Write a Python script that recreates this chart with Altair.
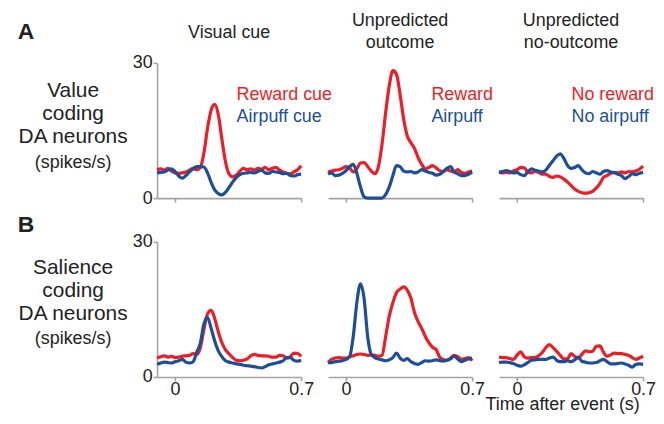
import altair as alt
import pandas as pd

# ---------------- data ----------------
TIME = [-0.10, -0.08, -0.06, -0.04, -0.02, 0.00, 0.02, 0.04, 0.06, 0.08,
        0.10, 0.12, 0.14, 0.16, 0.18, 0.20, 0.22, 0.24, 0.26, 0.28,
        0.30, 0.32, 0.34, 0.36, 0.38, 0.40, 0.42, 0.44, 0.46, 0.48,
        0.50, 0.52, 0.54, 0.56, 0.58, 0.60, 0.62, 0.64, 0.66, 0.68, 0.70]

# Row A: value coding DA neurons
A_CUE_RED = [6.3, 6.5, 6.2, 6.6, 6.0, 5.6, 5.5, 5.6, 5.8, 6.2,
             6.6, 6.3, 6.8, 10.0, 15.5, 19.5, 20.8, 18.5, 13.0, 8.0,
             5.3, 4.7, 5.1, 6.0, 6.6, 6.3, 6.5, 6.2, 6.6, 6.4,
             6.8, 6.3, 6.6, 6.8, 6.2, 5.8, 5.5, 5.4, 5.8, 6.3, 7.2]
A_CUE_BLUE = [5.6, 5.7, 5.8, 6.2, 6.5, 5.9, 4.9, 4.4, 5.0, 5.8,
              6.5, 7.0, 7.0, 6.9, 5.6, 3.5, 1.8, 1.0, 0.7, 1.3,
              2.4, 3.6, 4.6, 5.2, 5.5, 5.6, 5.7, 5.6, 5.9, 6.2,
              5.6, 5.5, 5.9, 5.8, 5.7, 5.4, 5.5, 5.0, 4.9, 5.2, 5.3]
A_OUT_RED = [5.8, 6.0, 6.2, 6.3, 6.6, 7.0, 6.7, 5.8, 6.5, 7.8,
             7.9, 7.0, 6.0, 5.4, 7.0, 12.0, 19.0, 25.0, 28.3, 27.5,
             23.0, 17.5, 13.8, 12.3, 11.0, 9.0, 7.5, 6.5, 6.8, 7.2,
             6.7, 6.1, 5.9, 6.3, 6.0, 5.8, 6.3, 5.7, 5.5, 5.8, 6.0]
A_OUT_BLUE = [5.3, 5.6, 5.0, 5.1, 5.5, 6.1, 7.0, 7.5, 5.5, 2.5,
              0.3, 0.0, 0.0, 0.0, 0.0, 0.0, 0.8, 2.5, 5.0, 7.2,
              7.0, 6.0, 5.8, 5.9, 5.6, 5.8, 6.3, 6.0, 5.7, 5.5,
              5.1, 5.3, 5.9, 6.6, 7.0, 5.8, 5.4, 5.0, 5.0, 5.3, 5.7]
A_NO_RED = [5.7, 5.6, 5.7, 5.6, 6.0, 6.3, 6.8, 6.7, 5.8, 5.6,
            5.9, 5.7, 5.3, 5.3, 4.8, 4.6, 4.9, 4.7, 4.2, 3.6,
            2.8, 2.0, 1.5, 1.2, 1.1, 1.2, 1.5, 2.2, 3.2, 4.6,
            5.0, 5.5, 5.7, 5.6, 5.8, 5.6, 5.9, 5.8, 6.0, 6.4, 7.1]
A_NO_BLUE = [5.7, 5.9, 6.1, 5.9, 5.6, 5.7, 5.2, 5.0, 5.8, 6.5,
             6.2, 6.0, 5.8, 6.2, 7.3, 8.3, 9.3, 9.8, 8.8, 7.3,
             6.6, 6.8, 7.2, 6.3, 5.6, 5.4, 5.9, 5.6, 5.3, 5.9,
             6.1, 5.8, 5.6, 5.3, 5.0, 4.3, 4.8, 5.4, 5.2, 5.5, 5.7]

# Row B: salience coding DA neurons
B_CUE_RED = [4.2, 4.5, 4.7, 4.4, 4.6, 4.3, 4.4, 4.6, 4.7, 4.8,
             5.2, 5.0, 6.5, 10.5, 14.0, 14.8, 13.0, 10.0, 7.6, 6.0,
             5.1, 4.3, 3.7, 3.6, 3.7, 4.0, 4.7, 5.0, 4.8, 4.7,
             4.7, 4.6, 4.4, 4.4, 4.8, 4.7, 4.2, 4.5, 5.3, 5.2, 4.6]
B_CUE_BLUE = [2.8, 3.1, 3.3, 3.2, 3.1, 3.4, 3.6, 3.9, 3.3, 3.1,
              3.4, 5.5, 7.5, 11.8, 13.2, 10.8, 8.0, 5.8, 4.5, 3.6,
              3.3, 3.1, 2.9, 2.8, 2.6, 2.5, 2.4, 2.3, 2.1, 2.0,
              2.3, 2.7, 2.9, 3.1, 3.3, 3.6, 4.3, 4.3, 3.7, 3.5, 3.7]
B_OUT_RED = [3.2, 3.9, 4.2, 4.3, 4.2, 4.2, 4.5, 4.7, 5.0, 5.1,
             5.0, 4.8, 4.9, 4.8, 4.6, 4.8, 9.0, 13.5, 16.5, 18.7,
             19.5, 20.0, 19.3, 17.5, 14.3, 12.3, 10.8, 9.0, 7.6, 6.6,
             6.1, 4.4, 3.9, 3.7, 4.2, 4.8, 4.5, 3.9, 4.1, 4.3, 3.6]
B_OUT_BLUE = [3.2, 3.2, 3.4, 3.5, 3.6, 3.9, 4.5, 9.0, 16.5, 20.7,
              17.5, 9.0, 5.0, 4.3, 4.0, 3.8, 3.6, 3.8, 4.3, 5.3,
              4.2, 3.7, 4.1, 3.4, 3.0, 2.8, 3.2, 3.6, 3.5, 3.6,
              3.8, 3.6, 3.5, 3.7, 4.0, 4.6, 4.0, 3.4, 3.7, 4.0, 4.2]
B_NO_RED = [4.4, 4.3, 4.3, 4.1, 3.9, 4.8, 5.6, 4.5, 4.2, 4.3,
            4.3, 4.7, 5.4, 6.5, 7.2, 6.5, 5.7, 4.8, 4.0, 4.0,
            5.2, 4.6, 4.2, 5.0, 5.8, 5.6, 5.7, 6.8, 6.9, 5.5,
            4.6, 4.9, 5.3, 5.2, 5.2, 5.0, 4.8, 4.3, 3.9, 4.2, 4.6]
B_NO_BLUE = [3.2, 3.3, 3.3, 3.2, 3.0, 2.6, 2.4, 2.7, 3.2, 3.7,
             3.8, 3.9, 3.9, 3.9, 4.2, 4.4, 3.7, 3.4, 3.4, 3.6,
             3.4, 3.8, 4.4, 3.5, 3.3, 3.1, 3.1, 3.2, 3.6, 3.9,
             3.4, 2.9, 2.9, 3.0, 3.1, 2.9, 2.6, 2.2, 2.8, 2.9, 2.8]

COLUMN_TITLES = ["Visual cue", "Unpredicted\noutcome", "Unpredicted\nno-outcome"]
ROW_LETTERS = ["A", "B"]
ROW_LABELS = ["Value\ncoding\nDA neurons", "Salience\ncoding\nDA neurons"]
UNIT_LABEL = "(spikes/s)"
RED_LABELS = ["Reward cue", "Reward", "No reward"]
BLUE_LABELS = ["Airpuff cue", "Airpuff", "No airpuff"]
X_TICKS = [0, 0.7]
Y_TICKS = [0, 30]
X_TITLE = "Time after event (s)"

SERIES = [
    [(A_CUE_RED, A_CUE_BLUE), (A_OUT_RED, A_OUT_BLUE), (A_NO_RED, A_NO_BLUE)],
    [(B_CUE_RED, B_CUE_BLUE), (B_OUT_RED, B_OUT_BLUE), (B_NO_RED, B_NO_BLUE)],
]

# ---------------- style ----------------
RED = "#ee1d25"
BLUE = "#1c4f98"
AXIS = "#a3a3a3"
TEXT = "#222222"
FONT = "Liberation Sans"
W, H = 145, 136
LEGEND_X = [80, 104, 73]


def text_layer(label, x, y, size, color=TEXT, weight="normal", align="center", line_h=None):
    kw = dict(fontSize=size, color=color, fontWeight=weight, align=align,
              baseline="middle", font=FONT, lineBreak="\n")
    if line_h is not None:
        kw["lineHeight"] = line_h
    return alt.Chart(pd.DataFrame({"label": [label]})).mark_text(**kw).encode(
        x=alt.value(x), y=alt.value(y), text="label:N")


def panel(row, col):
    red, blue = SERIES[row][col]
    df = pd.DataFrame({
        "t": TIME + TIME,
        "v": red + blue,
        "s": ["red"] * len(TIME) + ["blue"] * len(TIME),
    })
    x = alt.X("t:Q", scale=alt.Scale(domain=[-0.1, 0.7], nice=False, zero=False),
              axis=alt.Axis(values=X_TICKS, labels=(row == 1), title=None, grid=False,
                            format="~g",
                            domainColor=AXIS, domainWidth=1.6, tickColor=AXIS, tickWidth=1.6,
                            tickSize=4, labelFontSize=18, labelPadding=0, labelColor=TEXT,
                            labelFlush=False, labelFont=FONT))
    if col == 0:
        yaxis = alt.Axis(values=Y_TICKS, title=None, grid=False, domainColor=AXIS,
                         domainWidth=1.6, tickColor=AXIS, tickWidth=1.6, tickSize=4,
                         labelFontSize=18, labelPadding=1, labelColor=TEXT, labelFont=FONT)
    else:
        yaxis = None
    y = alt.Y("v:Q", scale=alt.Scale(domain=[0, 30], nice=False), axis=yaxis)
    base = alt.Chart(df).encode(x=x, y=y)
    layers = [
        base.transform_filter(alt.datum.s == "red").mark_line(
            color=RED, strokeWidth=3.2, interpolate="monotone"),
        base.transform_filter(alt.datum.s == "blue").mark_line(
            color=BLUE, strokeWidth=3.2, interpolate="monotone"),
    ]
    if row == 0:
        layers.append(text_layer(RED_LABELS[col], LEGEND_X[col], 32, 18, RED, align="left"))
        layers.append(text_layer(BLUE_LABELS[col], LEGEND_X[col], 54, 18, BLUE, align="left"))
        if "\n" in COLUMN_TITLES[col]:
            layers.append(text_layer(COLUMN_TITLES[col], W / 2, -42, 18, line_h=22))
        else:
            layers.append(text_layer(COLUMN_TITLES[col], W / 2, -30, 18))
    if col == 0:
        ly = [-31, -16.5][row]
        layers.append(text_layer(ROW_LETTERS[row], -132, ly, 23, weight="bold"))
        cy = [28, 26][row]
        uy = [101, 98][row]
        layers.append(text_layer(ROW_LABELS[row], -84.5, cy, 21, line_h=23.5))
        layers.append(text_layer(UNIT_LABEL, -84.5, uy, 18))
    if row == 1 and col == 2:
        layers.append(text_layer(X_TITLE, 64, 164.5, 18))
    return alt.layer(*layers).properties(width=W, height=H)


panels = [panel(r, c) for r in range(2) for c in range(3)]

chart = (
    alt.concat(*panels, columns=3, spacing={"row": 44, "column": 27}, bounds="flush")
    .properties(padding={"left": 9, "top": 3, "right": 0, "bottom": 0})
    .configure(font=FONT)
    .configure_view(stroke=None)
)

chart.save("out.html", embed_options={"renderer": "svg", "actions": False})
